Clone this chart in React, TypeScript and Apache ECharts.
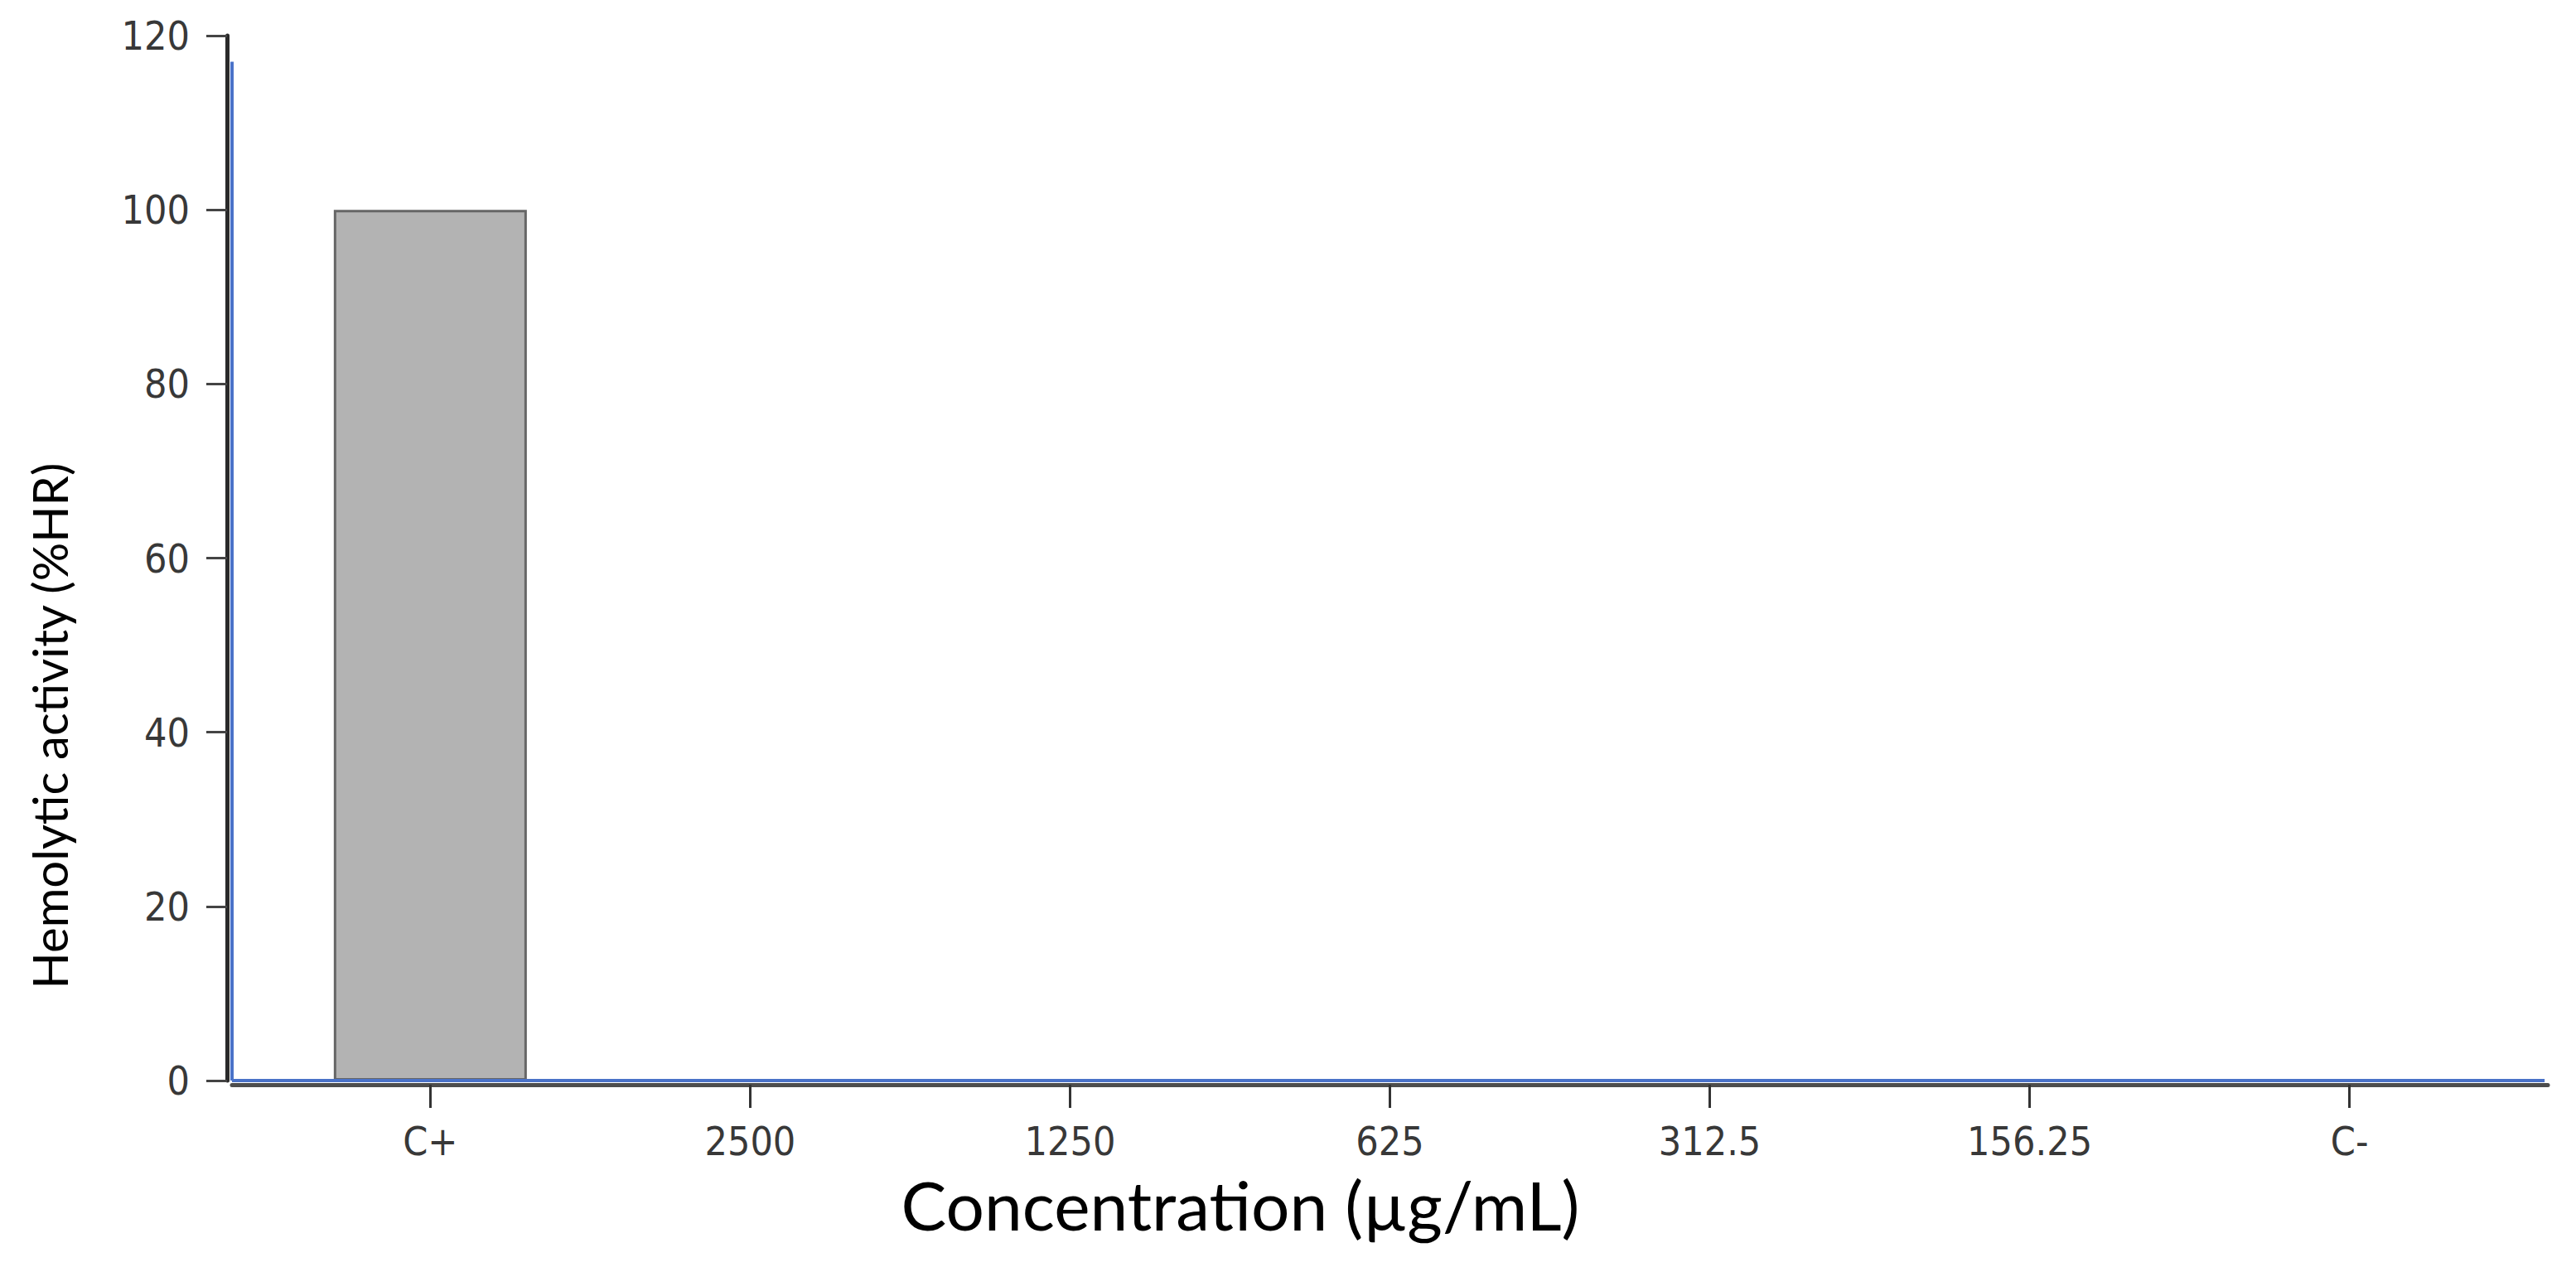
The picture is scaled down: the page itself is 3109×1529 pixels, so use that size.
import React, { useEffect, useRef } from "react";
import * as echarts from "echarts";

const categories = ["C+", "2500", "1250", "625", "312.5", "156.25", "C-"];
const hemolyticActivity = [100, 0, 0, 0, 0, 0, 0];
const yMin = 0;
const yMax = 120;
const yInterval = 20;
const xTitle = "Concentration (µg/mL)";
const yTitle = "Hemolytic activity (%HR)";

export default function App() {
  const ref = useRef<HTMLDivElement>(null);
  useEffect(() => {
    document.body.style.margin = "0";
    const chart = echarts.init(ref.current as HTMLDivElement, null, { renderer: "svg" });
    const idx = categories.map((_, i) => i);
    const xMin = -0.62;
    const xMax = 6.62;
    chart.setOption({
      animation: false,
      backgroundColor: "#ffffff",
      grid: { left: 280, right: 34, top: 43, bottom: 225, containLabel: false },
      xAxis: {
        type: "value",
        min: xMin,
        max: xMax,
        offset: 5,
        axisLine: { show: true, onZero: false, lineStyle: { color: "#4d4d4d", width: 5 } },
        axisTick: {
          show: true,
          customValues: idx,
          length: 28,
          lineStyle: { color: "#333333", width: 3 },
        },
        axisLabel: {
          customValues: idx,
          formatter: (v: number) => categories[Math.round(v)] ?? "",
          fontSize: 48,
          color: "#383838",
          fontFamily: "DejaVu Sans Condensed",
          margin: 44,
        },
        splitLine: { show: false },
      },
      yAxis: {
        type: "value",
        min: yMin,
        max: yMax,
        interval: yInterval,
        offset: 6,
        axisLine: { show: true, onZero: false, lineStyle: { color: "#2a2a2a", width: 5 } },
        axisTick: { show: true, length: 25, lineStyle: { color: "#444444", width: 3 } },
        axisLabel: {
          fontSize: 48,
          color: "#383838",
          fontFamily: "DejaVu Sans Condensed",
          margin: 45,
        },
        splitLine: { show: false },
      },
      graphic: [
        {
          type: "text",
          x: 59,
          y: 876,
          rotation: Math.PI / 2,
          style: {
            text: yTitle,
            fontSize: 58,
            fontFamily: "Lato",
            fill: "#000000",
            textAlign: "center",
            textVerticalAlign: "middle",
          },
        },
        {
          type: "text",
          x: 1497,
          y: 1453,
          style: {
            text: xTitle,
            fontSize: 82,
            fontFamily: "Lato",
            fill: "#000000",
            textAlign: "center",
            textVerticalAlign: "middle",
          },
        },
      ],
      series: [
        {
          type: "bar",
          data: idx.map((i) => [i, hemolyticActivity[i]]),
          barWidth: 233,
          clip: false,
          itemStyle: { color: "#b3b3b3", borderColor: "#666666", borderWidth: 3 },
          markLine: {
            silent: true,
            symbol: ["none", "none"],
            label: { show: false },
            lineStyle: { color: "#4a72c8", width: 4, type: "solid" },
            data: [
              [{ coord: [xMin, 0] }, { coord: [6.61, 0] }],
              [{ coord: [xMin, 0] }, { coord: [xMin, 117] }],
            ],
          },
        },
      ],
    });
    return () => chart.dispose();
  }, []);
  return (
    <div
      ref={ref}
      style={{ position: "absolute", left: 0, top: 0, width: 3109, height: 1529 }}
    />
  );
}
